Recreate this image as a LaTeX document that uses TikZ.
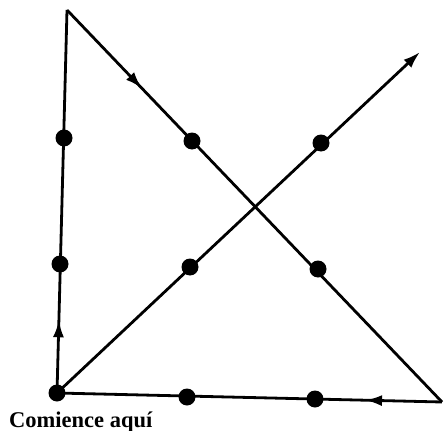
\documentclass[tikz,border=0pt]{standalone}
\usepackage{fontspec}
\setmainfont{Liberation Serif}
\usetikzlibrary{arrows.meta,decorations.markings}

\begin{document}
\begin{tikzpicture}[
  x=1pt, y=-1pt,
  dot/.style={circle, fill=black, draw=none, minimum size=17pt, inner sep=0pt},
  path/.style={line width=2.8pt, line join=miter},
  tip/.style={-{Latex[length=17pt, width=11pt]}},
  midarrow/.style={postaction={decorate}, decoration={markings,
    mark=at position #1 with {\arrow{Latex[length=17pt, width=11pt]}}}},
  label/.style={font=\fontsize{22.5}{26}\selectfont\bfseries, inner sep=0pt, anchor=base west}
]
\useasboundingbox (0,0) rectangle (445,431);

% the nine dots
\node[dot] (d11) at (64,138) {};
\node[dot] (d12) at (192,141) {};
\node[dot] (d13) at (321,143) {};
\node[dot] (d21) at (60,264) {};
\node[dot] (d22) at (190,267) {};
\node[dot] (d23) at (318,269) {};
\node[dot] (d31) at (57,393) {};
\node[dot] (d32) at (187,397) {};
\node[dot] (d33) at (315,399) {};

% turning points of the line
\coordinate (apex)   at (67,10);
\coordinate (corner) at (442,402);
\coordinate (finish) at (420,52);

\draw[path, midarrow=0.19] (d31.center) -- (apex);
\draw[path, midarrow=0.2] (apex) -- (corner);
\draw[path, midarrow=0.2] (corner) -- (d31.center);
\draw[path, tip] (d31.center) -- (finish);

\node[label] (start) at (9,427) {Comience aquí};
\end{tikzpicture}
\end{document}
